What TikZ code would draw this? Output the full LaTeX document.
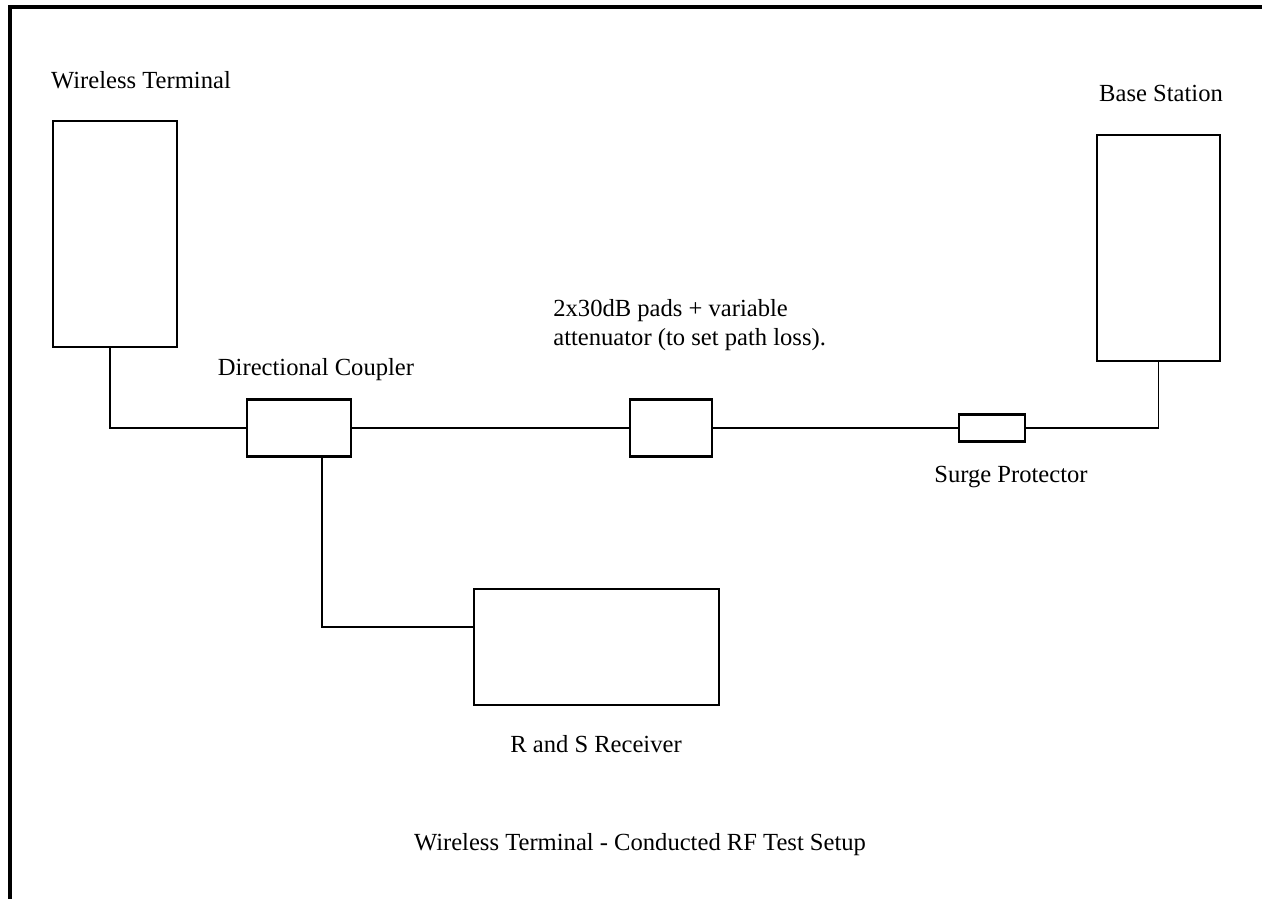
\documentclass[tikz,border=0pt]{standalone}
\usepackage{fontspec}
\setmainfont{Liberation Serif}
\usetikzlibrary{positioning, calc}

\begin{document}
\begin{tikzpicture}[x=0.02cm, y=-0.02cm,
    unit/.style={rectangle, draw, line width=1.2pt, minimum width=#1, inner sep=0pt},
    caption/.style={font=\fontsize{14}{16.5}\selectfont, inner sep=0pt},
    wire/.style={line width=1pt}]

    \useasboundingbox (0,0) rectangle (1262,899);
    \draw [line width=1.8pt] (10,899) |- (1262,7);

    % boxes
    \node [unit=2.48cm, minimum height=4.52cm] (terminal) at (115,234) {};
    \node [unit=2.46cm, minimum height=4.52cm] (base) at (1158.5,248) {};
    \node [unit=2.08cm, minimum height=1.14cm] (coupler) at (299,428) {};
    \node [unit=1.64cm, minimum height=1.14cm] (atten) at (671,428) {};
    \node [unit=1.32cm, minimum height=0.54cm] (surge) at (992,428) {};
    \node [unit=4.9cm, minimum height=2.32cm] (receiver) at (596.5,647) {};

    % labels
    \node [caption] (terminal-lbl) at (141,80) {Wireless Terminal};
    \node [caption] (base-lbl) at (1161,93) {Base Station};
    \node [caption] (coupler-lbl) at (316,370) {Directional Coupler};
    \node [caption, align=left, anchor=west] (atten-lbl) at (553,325) {2x30dB pads + variable\\attenuator (to set path loss).};
    \node [caption] (surge-lbl) at (1011,477) {Surge Protector};
    \node [caption] (receiver-lbl) at (596,744) {R and S Receiver};
    \node [caption] (title) at (640,845) {Wireless Terminal - Conducted RF Test Setup};

    % wiring
    \draw [wire] ([xshift=-0.1cm]terminal.south) |- (coupler.west);
    \draw [wire] (coupler.east) -- (atten.west);
    \draw [wire] (atten.east) -- (surge.west);
    \draw [wire] (surge.east) -| (base.south);
    \draw [wire] ([xshift=0.46cm]coupler.south) |- ([yshift=0.4cm]receiver.west);
\end{tikzpicture}
\end{document}
